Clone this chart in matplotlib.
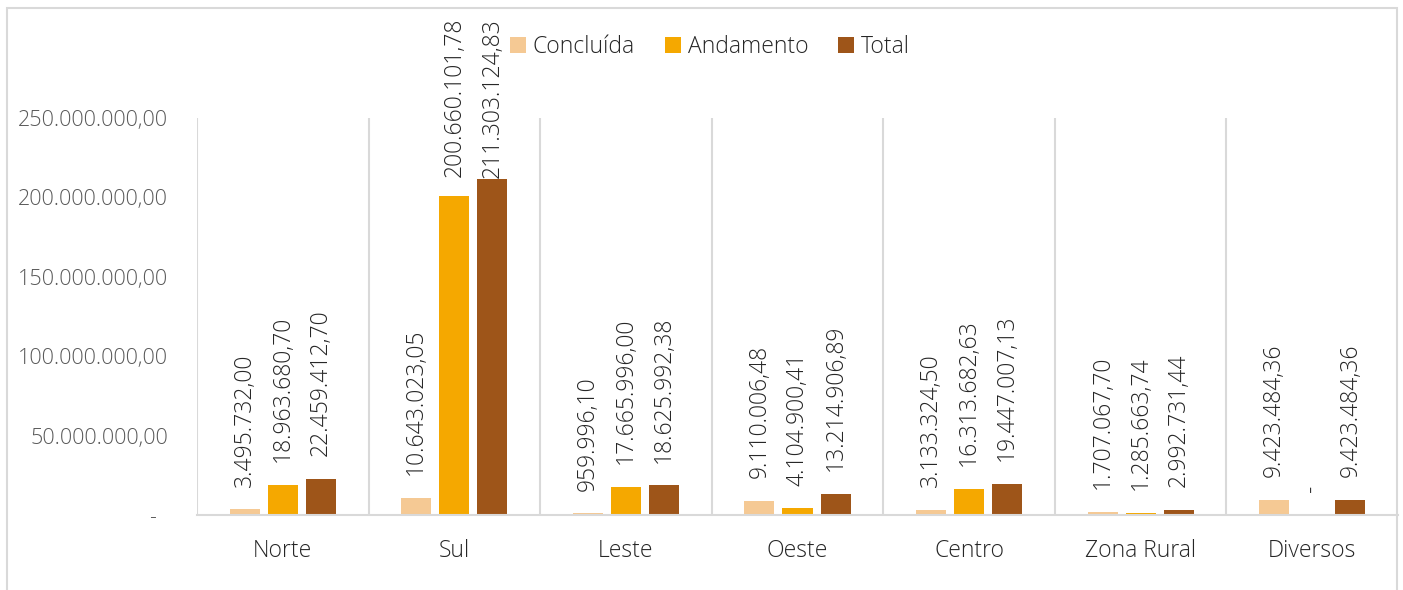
import numpy as np
import matplotlib
matplotlib.use("Agg")
import matplotlib.pyplot as plt
from matplotlib.patches import Rectangle

# Data

categories = ["Norte", "Sul", "Leste", "Oeste", "Centro", "Zona Rural", "Diversos"]
concluida = [3495732.00, 10643023.05, 959996.10, 9110006.48, 3133324.50, 1707067.70, 9423484.36]
andamento = [18963680.70, 200660101.78, 17665996.00, 4104900.41, 16313682.63, 1285663.74, 0.0]
total = [22459412.70, 211303124.83, 18625992.38, 13214906.89, 19447007.13, 2992731.44, 9423484.36]
series_names = ["Concluída", "Andamento", "Total"]
yticks = [0, 50e6, 100e6, 150e6, 200e6, 250e6]


def br(v):
    # Brazilian number format, "-" for zero (accounting style)
    if v == 0:
        return "-"
    s = f"{v:,.2f}"
    return s.replace(",", "X").replace(".", ",").replace("X", ".")


plt.rcParams["font.family"] = ["Open Sans", "DejaVu Sans"]
plt.rcParams["font.weight"] = "light"

colors = ["#F5C994", "#F5A800", "#9E5519"]
grid_c = "#D9D9D9"
DPI = 100

fig = plt.figure(figsize=(14.03, 5.9), dpi=DPI)
ax = fig.add_axes([197 / 1403, 75 / 590, 1201 / 1403, 397 / 590])

# outer chart frame
fig.patches.append(Rectangle((7 / 1403, -0.05), 1390 / 1403, 1.05 - 8 / 590,
                             transform=fig.transFigure, fill=False,
                             edgecolor=grid_c, linewidth=1.5))

x = np.arange(len(categories))
width = 0.175
offsets = [-0.222, 0, 0.222]

labels = []
for vals, off, col, name in zip([concluida, andamento, total], offsets, colors, series_names):
    bars = ax.bar(x + off, vals, width, color=col, label=name)
    for b, v in zip(bars, vals):
        t = ax.annotate(br(v), (b.get_x() + b.get_width() / 2, v),
                        xytext=(0, 16.5), textcoords="offset points",
                        rotation=90, ha="center", va="bottom",
                        fontsize=16.5, color="#262626", annotation_clip=False)
        labels.append(t)

ax.set_xlim(-0.5, len(categories) - 0.5)
ax.set_ylim(0, 250e6)

# category separators
for b in np.arange(-0.5, len(categories), 1.0):
    ax.axvline(b, color=grid_c, linewidth=1.5, zorder=0)

ax.set_xticks(x)
ax.set_xticklabels(categories, fontsize=16.5, color="#262626")
ax.set_yticks(yticks)
ax.set_yticklabels([br(v) if v else "-  " for v in yticks], fontsize=15.5, color="#595959")
ax.tick_params(axis="both", length=0)
ax.tick_params(axis="y", pad=21)
ax.tick_params(axis="x", pad=17)

for side in ["top", "right", "left"]:
    ax.spines[side].set_visible(False)
ax.spines["bottom"].set_color(grid_c)
ax.spines["bottom"].set_linewidth(1.5)

fig.legend(loc="center", bbox_to_anchor=(710 / 1403, 1 - 47 / 590), ncol=3,
           frameon=False, fontsize=16.5, handlelength=0.7, handleheight=0.7,
           handletextpad=0.3, columnspacing=1.3, labelcolor="#262626")

# keep labels inside the chart frame (push tall ones down like Excel does)
fig.canvas.draw()
renderer = fig.canvas.get_renderer()
top_px = 590 - 18
for t in labels:
    bb = t.get_window_extent(renderer)
    if bb.y1 > top_px:
        dx, dy = t.xyann
        t.xyann = (dx, dy - (bb.y1 - top_px) * 72 / DPI)

fig.savefig("out.png", dpi=DPI)
